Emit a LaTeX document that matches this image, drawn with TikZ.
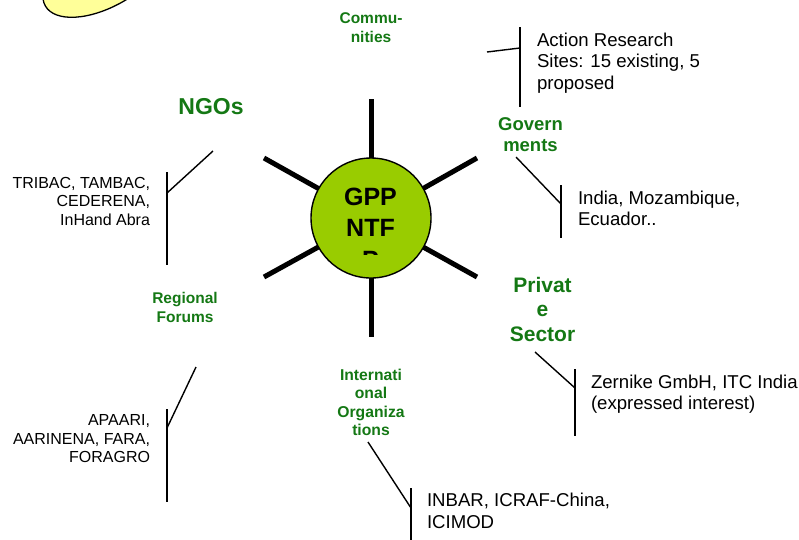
\documentclass[tikz,border=0pt]{standalone}
\usepackage{fontspec}
\setmainfont{Liberation Sans}
\usetikzlibrary{backgrounds}
\definecolor{ggreen}{RGB}{20,120,20}
\definecolor{limefill}{RGB}{153,204,0}
\definecolor{paleyellow}{RGB}{255,255,153}
\newcommand\myfs[2]{\fontsize{#1}{#2}\selectfont}
\begin{document}
\begin{tikzpicture}[x=1pt,y=1pt,
  brk/.style={line width=1.4pt, line cap=butt},
  spoke/.style={line width=5pt},
  glab/.style={inner sep=0pt, outer sep=0pt, text=ggreen, align=center, anchor=base},
  ltxt/.style={inner sep=0pt, outer sep=0pt, align=left, anchor=base west, font=\myfs{18.6}{21.5}},
  rtxt/.style={inner sep=0pt, outer sep=0pt, align=right, anchor=base east, font=\myfs{16}{18.5}}]
\useasboundingbox (0,0) rectangle (799,-539);
\clip (0,0) rectangle (799,-539);

% yellow ellipse (top left, mostly off page)
\draw[line width=1.3pt, fill=paleyellow, rotate around={30:(106,29)}] (106,29) ellipse [x radius=70, y radius=35];

% central circle
\node[circle, draw=black, line width=1.4pt, fill=limefill, minimum size=120pt, inner sep=0pt] (gpp) at (371,-218) {};
\begin{scope}
  \clip (300,-150) rectangle (440,-254);
  \node[inner sep=0pt, align=center, anchor=base, font=\bfseries\myfs{25}{31.5}] (gpptxt) at (370.5,-268) {GPP\\NTF\\P};
\end{scope}

% spokes
\coordinate (sT) at (371,-99);
\coordinate (sB) at (371,-337);
\coordinate (sUL) at (264,-158);
\coordinate (sUR) at (477,-158);
\coordinate (sLL) at (264,-277);
\coordinate (sLR) at (477,-277);
\begin{scope}[on background layer]
  \foreach \s in {sT,sB,sUL,sUR,sLL,sLR} \draw[spoke] (gpp.center) -- (\s);
\end{scope}

% green labels (anchor = baseline of last line)
\node[glab, font=\bfseries\myfs{15.5}{19}] (comm) at (371,-42) {Commu-\\nities};
\node[glab, font=\bfseries\myfs{23}{27}] (ngo) at (211,-114) {NGOs};
\node[glab, font=\bfseries\myfs{18.5}{21}] (gov) at (530.5,-151.7) {Govern\\ments};
\node[glab, font=\bfseries\myfs{15.5}{19}] (reg) at (185,-322.3) {Regional\\Forums};
\node[glab, font=\bfseries\myfs{15.7}{18.5}] (intl) at (371,-435.5) {Internati\\onal\\Organiza\\tions};
\node[glab, font=\bfseries\myfs{21}{24.6}] (priv) at (542.5,-341.5) {Privat\\e\\Sector};

% black texts
\node[ltxt] (ar) at (537,-89) {Action Research\\Sites: 15 existing, 5\\proposed};
\node[ltxt, font=\myfs{18.6}{21}] (govt) at (578,-225) {India, Mozambique,\\Ecuador..};
\node[ltxt] (privt) at (591,-409.8) {Zernike GmbH, ITC India\\(expressed interest)};
\node[ltxt, font=\myfs{18.6}{21.6}] (intlt) at (427,-528.3) {INBAR, ICRAF-China,\\ICIMOD};
\node[rtxt] (ngot) at (150,-225) {TRIBAC, TAMBAC,\\CEDERENA,\\InHand Abra};
\node[rtxt, font=\myfs{16}{18.3}] (regt) at (150,-462.3) {APAARI,\\AARINENA, FARA,\\FORAGRO};

% brackets
\coordinate (c1) at (487,-52);   \coordinate (c2) at (520,-48);
\coordinate (c3) at (520,-27);   \coordinate (c4) at (520,-107);
\draw[brk] (c1) -- (c2); \draw[brk] (c3) -- (c4);

\coordinate (g1) at (516,-157);  \coordinate (g2) at (561,-204);
\coordinate (g3) at (561,-185);  \coordinate (g4) at (561,-238);
\draw[brk] (g1) -- (g2); \draw[brk] (g3) -- (g4);

\coordinate (n1) at (213,-151);  \coordinate (n2) at (167,-193);
\coordinate (n3) at (167,-172);  \coordinate (n4) at (167,-265);
\draw[brk] (n1) -- (n2); \draw[brk] (n3) -- (n4);

\coordinate (r1) at (196,-367);  \coordinate (r2) at (167,-428);
\coordinate (r3) at (167,-409);  \coordinate (r4) at (167,-502);
\draw[brk] (r1) -- (r2); \draw[brk] (r3) -- (r4);

\coordinate (i1) at (368,-442);  \coordinate (i2) at (411,-508);
\coordinate (i3) at (411,-488);  \coordinate (i4) at (411,-545);
\draw[brk] (i1) -- (i2); \draw[brk] (i3) -- (i4);

\coordinate (p1) at (535,-352);  \coordinate (p2) at (575,-388);
\coordinate (p3) at (575,-369);  \coordinate (p4) at (575,-436);
\draw[brk] (p1) -- (p2); \draw[brk] (p3) -- (p4);
\end{tikzpicture}
\end{document}
